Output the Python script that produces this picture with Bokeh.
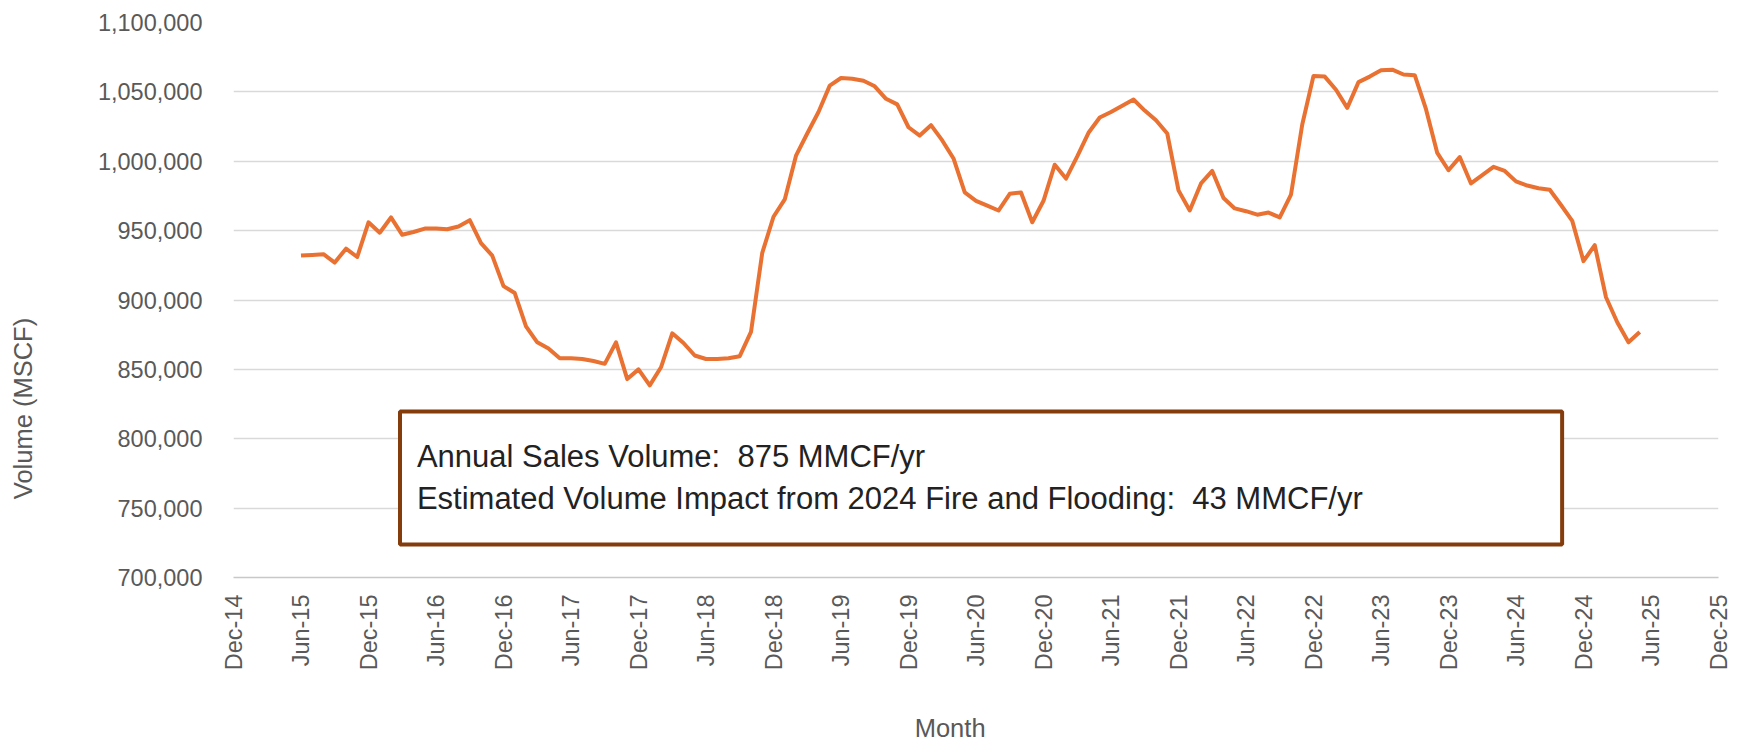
from math import pi
from bokeh.plotting import figure
from bokeh.layouts import row, column
from bokeh.models import Range1d, FixedTicker, NumeralTickFormatter, Label, BoxAnnotation
from bokeh.embed import file_html
from bokeh.resources import INLINE

# Monthly sales volume (MSCF), Jun-15 .. May-25
volume = [
    932000, 932500, 933000, 927000, 937000, 931000,
    956000, 948500, 959500, 947000, 949000, 951500,
    951500, 951000, 953000, 957500, 941000, 932000,
    910000, 905000, 881000, 869500, 865000, 858000,
    858000, 857500, 856000, 854000, 869500, 843000,
    850000, 838500, 851500, 876000, 869000, 860000,
    857500, 857500, 858000, 859500, 877000, 934000,
    960000, 972500, 1004000, 1020000, 1035500, 1054500,
    1060000, 1059500, 1058000, 1054000, 1045000, 1041000,
    1024500, 1018500, 1026000, 1015000, 1002000, 977500,
    971500, 968000, 964500, 976500, 977500, 956000,
    971500, 997500, 987500, 1003500, 1020500, 1031500,
    1035500, 1040000, 1044500, 1036500, 1029500, 1020000,
    979000, 964500, 984000, 993000, 973500, 966000,
    964000, 961500, 963000, 959500, 976000, 1026500,
    1061500, 1061000, 1051500, 1038500, 1057000, 1061000,
    1065500, 1066000, 1062500, 1062000, 1037500, 1006000,
    993500, 1003000, 984000, 990000, 996000, 993000,
    985500, 982500, 980500, 979500, 968500, 957000,
    928000, 939500, 902000, 884000, 869500, 877000,
]
first_month = 6  # months after Dec-14 (Jun-15)

tick_labels = ["Dec-14", "Jun-15", "Dec-15", "Jun-16", "Dec-16", "Jun-17", "Dec-17",
               "Jun-18", "Dec-18", "Jun-19", "Dec-19", "Jun-20", "Dec-20", "Jun-21",
               "Dec-21", "Jun-22", "Dec-22", "Jun-23", "Dec-23", "Jun-24", "Dec-24",
               "Jun-25", "Dec-25"]
y_ticks = [700000, 750000, 800000, 850000, 900000, 950000, 1000000, 1050000, 1100000]

y_title = "Volume (MSCF)"
x_title = "Month"
note_lines = ["Annual Sales Volume:\u00a0 875 MMCF/yr",
              "Estimated Volume Impact from 2024 Fire and Flooding:\u00a0 43 MMCF/yr"]

x = [first_month + i for i in range(len(volume))]
x_ticks = [6 * i for i in range(len(tick_labels))]

FONT = "Liberation Sans"
GRAY = "#595959"
TOTAL_W, TOTAL_H = 1739, 744
LEFT_W = 60
BOTTOM_H = 40
MAIN_W = TOTAL_W - LEFT_W
MAIN_H = TOTAL_H - BOTTOM_H
FRAME_L, FRAME_R, FRAME_T, FRAME_B = 233, 1718, 22, 577

x_range = Range1d(x_ticks[0], x_ticks[-1])
y_range = Range1d(y_ticks[0], y_ticks[-1])


def blank(width, height, xr, yr, **borders):
    f = figure(width=width, height=height, output_backend="svg", toolbar_location=None,
               x_range=xr, y_range=yr, x_axis_type=None, y_axis_type=None,
               title=None, **borders)
    f.outline_line_color = None
    f.background_fill_color = "white"
    f.border_fill_color = "white"
    f.grid.visible = False
    return f


# ---- main chart ----
p = figure(width=MAIN_W, height=MAIN_H, output_backend="svg", toolbar_location=None,
           x_range=x_range, y_range=y_range,
           min_border_left=FRAME_L - LEFT_W, min_border_right=TOTAL_W - FRAME_R,
           min_border_top=FRAME_T, min_border_bottom=MAIN_H - FRAME_B, title=None)
p.outline_line_color = None
p.background_fill_color = "white"
p.border_fill_color = "white"

p.xgrid.visible = False
p.ygrid.grid_line_color = "#D9D9D9"
p.ygrid.grid_line_width = 1.5

p.xaxis.ticker = FixedTicker(ticks=x_ticks)
p.xaxis.major_label_overrides = {t: lab for t, lab in zip(x_ticks, tick_labels)}
p.xaxis.major_label_orientation = pi / 2
p.xaxis.major_tick_line_color = None
p.xaxis.minor_tick_line_color = None
p.xaxis.major_tick_out = 0
p.xaxis.major_tick_in = 0
p.xaxis.major_label_standoff = 17
p.xaxis.axis_line_color = "#C8C8C8"
p.xaxis.axis_line_width = 1.5
p.xaxis.major_label_text_font = FONT
p.xaxis.major_label_text_font_size = "23.5px"
p.xaxis.major_label_text_color = GRAY

p.yaxis.ticker = FixedTicker(ticks=y_ticks)
p.yaxis.formatter = NumeralTickFormatter(format="0,0")
p.yaxis.axis_line_color = None
p.yaxis.major_tick_line_color = None
p.yaxis.minor_tick_line_color = None
p.yaxis.major_tick_out = 0
p.yaxis.major_tick_in = 0
p.yaxis.major_label_standoff = 31
p.yaxis.major_label_text_font = FONT
p.yaxis.major_label_text_font_size = "23.5px"
p.yaxis.major_label_text_color = GRAY

p.line(x, volume, line_color="#E97132", line_width=4, line_join="round")

box = BoxAnnotation(left=14.8, right=118.1, top=819650, bottom=723800,
                    fill_color="white", fill_alpha=1.0,
                    line_color="#843C0C", line_alpha=1.0, line_width=4)
p.add_layout(box)

p.add_layout(Label(x=16.3, y=787200, text=note_lines[0], text_font=FONT,
                   text_font_size="31px", text_color="#222222",
                   text_align="left", text_baseline="alphabetic"))
p.add_layout(Label(x=16.3, y=756900, text=note_lines[1], text_font=FONT,
                   text_font_size="31px", text_color="#222222",
                   text_align="left", text_baseline="alphabetic"))

# ---- axis titles (separate panels so they are not clipped) ----
left = blank(LEFT_W, TOTAL_H, Range1d(0, LEFT_W), y_range,
             min_border_left=0, min_border_right=0,
             min_border_top=FRAME_T, min_border_bottom=TOTAL_H - FRAME_B)
left.add_layout(Label(x=22, y=821800, text=y_title, angle=pi / 2, text_font=FONT,
                      text_font_size="25.5px", text_color=GRAY,
                      text_align="center", text_baseline="middle"))

bottom = blank(MAIN_W, BOTTOM_H, x_range, Range1d(0, BOTTOM_H),
               min_border_left=FRAME_L - LEFT_W, min_border_right=TOTAL_W - FRAME_R,
               min_border_top=0, min_border_bottom=0)
bottom.add_layout(Label(x=63.7, y=TOTAL_H - 727, text=x_title, text_font=FONT,
                        text_font_size="25.5px", text_color=GRAY,
                        text_align="center", text_baseline="middle"))

layout = row(left, column(p, bottom))

open("out.html", "w").write(file_html(layout, INLINE))
